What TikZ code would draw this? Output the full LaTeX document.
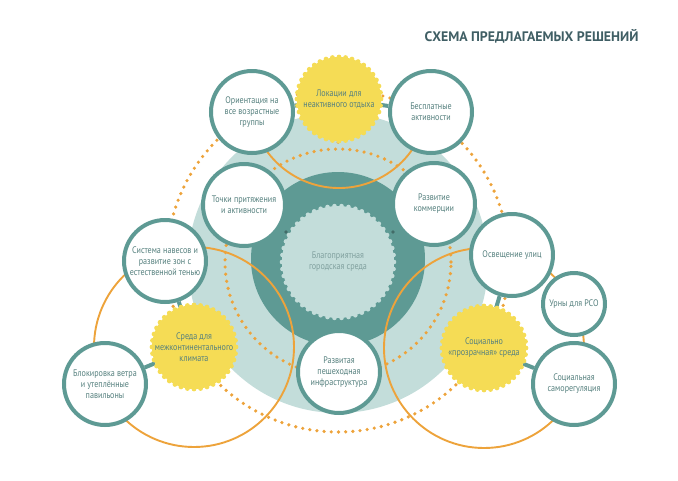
\documentclass[tikz,border=0pt]{standalone}
\usepackage{fontspec}
\setmainfont{PT Sans}[FakeStretch=0.85]
\newfontfamily\headfont{PT Sans}
\usetikzlibrary{positioning,calc}
\definecolor{tealD}{HTML}{5E9A94}
\definecolor{tealL}{HTML}{C3DDDA}
\definecolor{tealT}{HTML}{55807E}
\definecolor{sun}{HTML}{F5DC55}
\definecolor{amber}{HTML}{EDA33B}
\definecolor{titlec}{HTML}{3F5E64}
\pgfdeclarelayer{back}
\pgfdeclarelayer{lines}
\pgfsetlayers{back,lines,main}

\begin{document}
\begin{tikzpicture}[x=1pt, y=1pt,
  every node/.style={font=\fontsize{9.5}{11}\selectfont, text=tealT, align=center},
  ring/.style={circle, draw=tealD, line width=4pt, fill=white, minimum size=82pt, inner sep=0pt},
  sungear/.style={circle, fill=sun, minimum size=84pt, inner sep=0pt},
  dots/.style={amber, line width=3.6pt, line cap=round, dash pattern=on 0pt off 7.2pt},
  arcline/.style={amber, line width=1.9pt},
  stub/.style={tealD, line width=4pt}]
  \useasboundingbox (0,0) rectangle (678,-480);

  \coordinate (mid) at (338,-262);

  % title
  \node[font=\headfont\bfseries\fontsize{13.8}{15}\selectfont, text=titlec, anchor=east] (title) at (642,-36) {СХЕМА ПРЕДЛАГАЕМЫХ РЕШЕНИЙ};

  % core
  \begin{pgfonlayer}{back}
    \fill[tealL] (338,-263) circle (150);
    \fill[tealD] (338,-259) circle (87);
    \fill[tealL] (mid) circle (56);
    \foreach \i in {1,...,50} \fill[tealL] (mid) ++({\i*7.2}:56) circle (2.3);
    \fill[tealD!70!black] (286,-232) circle (1.8);
    \fill[tealD!70!black] (393,-232) circle (1.8);
  \end{pgfonlayer}
  \node[text=tealT!75] (city) at (mid) {Благоприятная\\городская среда};

  % outer circles
  \node[ring] (ori)    at (252,-112) {Ориентация на\\все возрастные\\группы};
  \node[sungear] (lok) at (339,-99)  {Локации для\\неактивного отдыха};
  \node[ring] (besp)   at (431,-112) {Бесплатные\\активности};
  \node[ring] (tochki) at (244,-205) {Точки притяжения\\и активности};
  \node[ring] (komm)   at (434,-204) {Развитие\\коммерции};
  \node[ring] (sist)   at (165,-261) {Система навесов и\\развитие зон с\\естественной тенью};
  \node[ring] (osv)    at (512,-255) {Освещение улиц};
  \node[sungear] (sreda) at (194,-347) {Среда для\\межконтинентального\\климата};
  \node[sungear] (soc) at (484,-348) {Социально\\«прозрачная» среда};
  \node[ring, minimum size=62pt] (urny) at (574,-304) {Урны для РСО};
  \node[ring] (blok)   at (105,-384) {Блокировка ветра\\и утеплённые\\павильоны};
  \node[ring] (samo)   at (574,-384) {Социальная\\саморегуляция};
  \node[ring] (pesh)   at (339,-372) {Развитая\\пешеходная\\инфраструктура};

  % gear teeth
  \foreach \g in {lok,sreda,soc}
    \foreach \i in {1,...,40} \fill[sun] (\g.center) ++({\i*9}:42) circle (2.4);

  % links
  \begin{pgfonlayer}{lines}
    \draw[dots] (mid) circle (113);
    \draw[dots] (338,-261) circle (171);
    \draw[dots] (lok.center) -- (338,-149);
    \draw[arcline] (lok.center) ++(200:89) arc (200:340:89);
    \draw[arcline] (sreda.center) circle (100);
    \draw[arcline] (soc.center) circle (100);
    \draw[stub] (ori) -- (lok);
    \draw[stub] (lok) -- (besp);
    \draw[stub] (sist) -- (sreda);
    \draw[stub] (blok) -- (sreda);
    \draw[stub] (osv) -- (soc);
    \draw[stub] (soc) -- (samo);
  \end{pgfonlayer}
\end{tikzpicture}
\end{document}
